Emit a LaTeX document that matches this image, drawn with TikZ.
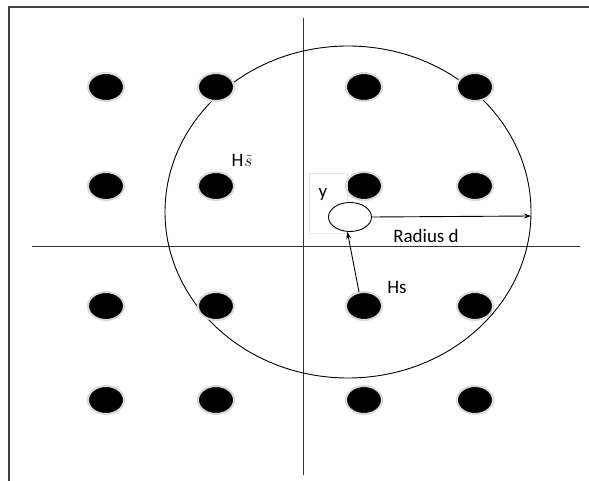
\documentclass[tikz,border=0pt]{standalone}
\usepackage{fontspec}
\setmainfont{Carlito}
\usetikzlibrary{shapes.geometric}
\usetikzlibrary{arrows.meta}
\usetikzlibrary{positioning}

\begin{document}
\begin{tikzpicture}[x=1pt,y=-1pt,font=\fontsize{19}{22}\selectfont,
          dot/.style={ellipse,fill=black,draw=gray!30,line width=2pt,minimum width=36pt,minimum height=28pt,inner sep=0pt},
          axis/.style={draw=black!80,line width=0.9pt},
          lbl/.style={inner sep=1pt}]
          \useasboundingbox (0,0) rectangle (589,481);
          % frame
          \draw[line width=1.3pt,black!75] (9,481) -- (9,7) -- (589,7);
          % axes
          \draw[axis] (303,18) -- (303,475);
          \draw[axis] (32,246) -- (580,246);
          % big circle
          \node[ellipse,draw,line width=0.9pt,minimum width=366pt,minimum height=332pt,inner sep=0pt](big) at (348,212){};
          % constellation points
          \foreach \x/\i in {106/1,216/2,364/3,475/4}
            \foreach \y/\j in {87/1,186/2,306/3,400/4}
              \node[dot](d\i\j) at (\x,\y){};
          % received point
          \node[draw=gray!20,minimum width=38pt,minimum height=60pt,inner sep=0pt](ybox) at (328,203){};
          \node[ellipse,draw,line width=0.9pt,fill=white,minimum width=43pt,minimum height=29pt,inner sep=0pt](rx) at (350,217){};
          \node[lbl](ylab) at (323,194){y};
          \coordinate (rim) at (531,216);
          \draw[-{Stealth[length=7pt,width=5pt]},line width=0.9pt](rx.east) -- (rim);
          \node[lbl](rad) at (426,236){Radius d};
          \coordinate (hs0) at (359,292);
          \draw[-{Stealth[length=7pt,width=5pt]},line width=0.9pt](hs0) -- (rx.-100);
          \node[lbl](hs) at (397,287){Hs};
          \node[lbl](hst) at (242,160){H\kern1pt$\tilde{s}$};
        \end{tikzpicture}
\end{document}
